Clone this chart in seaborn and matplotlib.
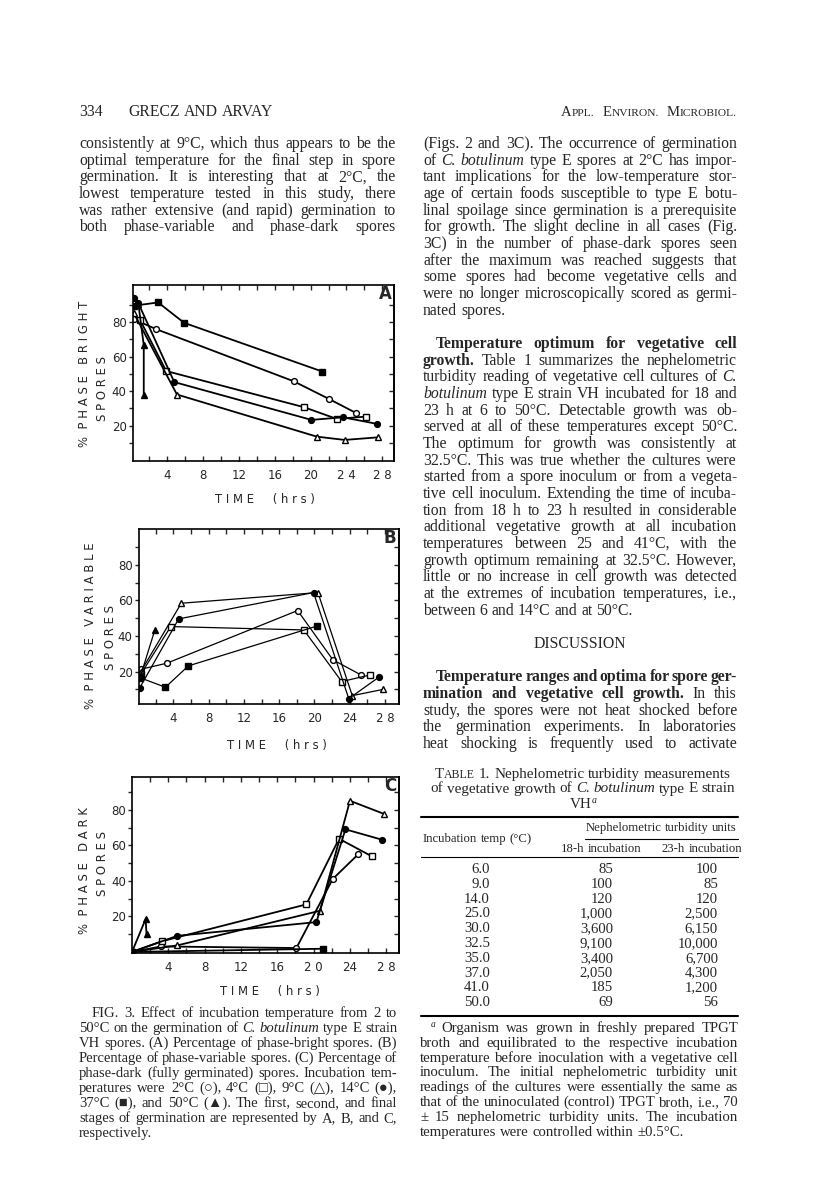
import numpy as np
import pandas as pd
import seaborn as sns
import matplotlib.pyplot as plt
from matplotlib.lines import Line2D

# Page size in pixels (saved at dpi 100)
W, H = 816, 1195
SERIF = ['Liberation Serif', 'DejaVu Sans']
SANS = ['DejaVu Sans']
BODY = 11.3     # body text font size
CAP = 10.5      # caption font size
FOOT = 10.6     # footnote font size
TK = 8.5        # tick label size

# ==============================================================================
# Fig. 3 values: (time in hrs, % spores)
TEMPS = ['2°C', '4°C', '9°C', '14°C', '37°C', '50°C']

# (A) phase-bright spores
A_2C = [(0.3, 81.5), (2.8, 75.8), (18.1, 45.7), (22.1, 35.3), (25.1, 27.2)]
A_4C = [(1.0, 81.0), (3.9, 51.6), (19.3, 30.6), (22.9, 23.9), (26.2, 25.2)]
A_9C = [(0.3, 85.0), (5.1, 38.0), (20.7, 13.6), (23.8, 11.7), (27.5, 13.2)]
A_14C = [(0.3, 93.7), (0.8, 90.8), (4.8, 45.2), (20.1, 23.3), (23.6, 24.8), (27.4, 21.0)]
A_37C = [(0.3, 89.4), (3.0, 91.3), (5.9, 79.5), (21.3, 51.3)]
A_50C = [(0.8, 90.5), (1.4, 66.5), (1.4, 38.0)]

# (B) phase-variable spores
B_2C = [(0.3, 21.3), (3.25, 24.7), (18.1, 54.3), (22.1, 26.6), (25.3, 18.1)]
B_4C = [(0.3, 18.5), (3.7, 45.3), (18.8, 43.4), (23.1, 14.4), (26.3, 18.1)]
B_9C = [(0.3, 20.0), (4.9, 58.4), (20.4, 64.4), (24.3, 6.5), (27.8, 10.0)]
B_14C = [(0.2, 11.0), (4.6, 49.6), (19.9, 64.4), (23.9, 4.8), (27.3, 16.8)]
B_37C = [(0.2, 16.6), (3.1, 11.2), (5.7, 23.2), (20.3, 45.6)]
B_50C = [(0.3, 18.0), (1.9, 43.4)]

# (C) phase-dark spores
C_2C = [(0.0, 0.0), (3.2, 3.1), (18.1, 2.2), (22.1, 41.1), (24.9, 55.0)]
C_4C = [(0.0, 0.0), (3.35, 6.1), (19.2, 26.8), (22.8, 63.8), (26.4, 53.9)]
C_9C = [(0.0, 0.0), (5.0, 3.7), (20.7, 23.2), (24.0, 85.2), (27.8, 77.7)]
C_14C = [(0.0, 0.0), (5.0, 9.1), (20.3, 16.8), (23.5, 69.1), (27.5, 63.3)]
C_37C = [(0.0, 0.0), (21.0, 1.8)]
C_50C = [(0.0, 0.0), (1.5, 18.5), (1.6, 10.0)]

X_TICKS = [4, 8, 12, 16, 20, 24, 28]
X_MINOR = [2, 6, 10, 14, 18, 22, 26]
X_LABELS_A = ['4', '8', '12', '16', '20', '2 4', '2 8']
X_LABELS_B = ['4', '8', '12', '16', '20', '24', '2 8']
X_LABELS_C = ['4', '8', '12', '16', '2 0', '24', '2 8']
Y_TICKS = [20, 40, 60, 80]
Y_MINOR = [10, 30, 50, 70, 90]
Y_RIGHT = [10, 20, 30, 40, 50, 60, 70, 80, 90]

# Table 1 values
TAB_TEMP = ['6.0', '9.0', '14.0', '25.0', '30.0', '32.5', '35.0', '37.0', '41.0', '50.0']
TAB_18H = ['85', '100', '120', '1,000', '3,600', '9,100', '3,400', '2,050', '185', '69']
TAB_23H = ['100', '85', '120', '2,500', '6,150', '10,000', '6,700', '4,300', '1,200', '56']

MARKERS = {
    '2°C': ('o', 'white'), '4°C': ('s', 'white'), '9°C': ('^', 'white'),
    '14°C': ('o', 'black'), '37°C': ('s', 'black'), '50°C': ('^', 'black'),
}

# ==============================================================================
LEFT_TOP = [
    'consistently at 9°C, which thus appears to be the',
    'optimal temperature for the final step in spore',
    'germination. It is interesting that at 2°C, the',
    'lowest temperature tested in this study, there',
    'was rather extensive (and rapid) germination to',
    'both phase-variable and phase-dark spores',
]

RIGHT = [
    '(Figs. 2 and 3C). The occurrence of germination',
    'of _C. _botulinum type E spores at 2°C has impor-',
    'tant implications for the low-temperature stor-',
    'age of certain foods susceptible to type E botu-',
    'linal spoilage since germination is a prerequisite',
    'for growth. The slight decline in all cases (Fig.',
    '3C) in the number of phase-dark spores seen',
    'after the maximum was reached suggests that',
    'some spores had become vegetative cells and',
    'were no longer microscopically scored as germi-',
    'nated spores.<',
    '',
    '>*Temperature *optimum *for *vegetative *cell',
    '*growth. Table 1 summarizes the nephelometric',
    'turbidity reading of vegetative cell cultures of _C.',
    '_botulinum type E strain VH incubated for 18 and',
    '23 h at 6 to 50°C. Detectable growth was ob-',
    'served at all of these temperatures except 50°C.',
    'The optimum for growth was consistently at',
    '32.5°C. This was true whether the cultures were',
    'started from a spore inoculum or from a vegeta-',
    'tive cell inoculum. Extending the time of incuba-',
    'tion from 18 h to 23 h resulted in considerable',
    'additional vegetative growth at all incubation',
    'temperatures between 25 and 41°C, with the',
    'growth optimum remaining at 32.5°C. However,',
    'little or no increase in cell growth was detected',
    'at the extremes of incubation temperatures, i.e.,',
    'between 6 and 14°C and at 50°C.<',
    '',
    '=DISCUSSION',
    '',
    '>*Temperature *ranges *and *optima *for *spore *ger-',
    '*mination *and *vegetative *cell *growth. In this',
    'study, the spores were not heat shocked before',
    'the germination experiments. In laboratories',
    'heat shocking is frequently used to activate',
]

CAPTION = [
    '>FIG. 3. Effect of incubation temperature from 2 to',
    '50°C on the germination of _C. _botulinum type E strain',
    'VH spores. (A) Percentage of phase-bright spores. (B)',
    'Percentage of phase-variable spores. (C) Percentage of',
    'phase-dark (fully germinated) spores. Incubation tem-',
    'peratures were 2°C (○), 4°C (□), 9°C (△), 14°C (●),',
    '37°C (■), and 50°C (▲). The first, second, and final',
    'stages of germination are represented by A, B, and C,',
    'respectively.<',
]

FOOTNOTE = [
    '>^a Organism was grown in freshly prepared TPGT',
    'broth and equilibrated to the respective incubation',
    'temperature before inoculation with a vegetative cell',
    'inoculum. The initial nephelometric turbidity unit',
    'readings of the cultures were essentially the same as',
    'that of the uninoculated (control) TPGT broth, i.e., 70',
    '± 15 nephelometric turbidity units. The incubation',
    'temperatures were controlled within ±0.5°C.<',
]

# ==============================================================================
sns.set_style('ticks')
plt.rcParams['font.family'] = SANS

fig = plt.figure(figsize=(W / 100, H / 100), dpi=100)
fig.patch.set_facecolor('white')
renderer = fig.canvas.get_renderer()


def fx(x):
    return x / W


def fy(y):
    return 1 - y / H


def pieces(tok, size):
    """Split a word into (text, size, weight, style, raise) pieces"""
    weight, style = 'normal', 'normal'
    if tok.startswith('*'):
        weight, tok = 'bold', tok[1:]
    elif tok.startswith('_'):
        style, tok = 'italic', tok[1:]
    if tok.startswith('!'):  # small caps
        tok = tok[1:]
        return [(tok[0], size, weight, style, 0), (tok[1:], size * 0.78, weight, style, 0)]
    if '^' in tok:
        base, sup = tok.split('^')
        out = []
        if base:
            out.append((base, size, weight, style, 0))
        out.append((sup, size * 0.65, weight, 'italic', size * 0.35))
        return out
    return [(tok, size, weight, style, 0)]


def line(x0, x1, y, text, size=BODY, justify=True, center=False):
    words = []
    for tok in text.split():
        arts, w = [], 0.0
        for s, fs, wt, st, up in pieces(tok, size):
            t = fig.text(0, fy(y - up * 100 / 72), s, fontsize=fs, family=SERIF,
                         weight=wt, style=st, va='baseline', ha='left')
            arts.append((t, w))
            w += t.get_window_extent(renderer).width
        words.append((arts, w))
    total = sum(w for _, w in words)
    gap = size * 100 / 72 * 0.25
    if justify and len(words) > 1:
        gap = max((x1 - x0 - total) / (len(words) - 1), 1.5)
    x = x0
    if center:
        x = (x0 + x1) / 2 - (total + gap * (len(words) - 1)) / 2
    for arts, w in words:
        for t, off in arts:
            t.set_x(fx(x + off))
        x += w + gap


def column(x0, x1, y0, step, rows, size=BODY, indent=13):
    for i, row in enumerate(rows):
        if not row:
            continue
        left, just, center = x0, True, False
        if row.startswith('>'):
            row, left = row[1:], x0 + indent
        if row.startswith('='):
            row, just, center = row[1:], False, True
        if row.endswith('<'):
            row, just = row[:-1], False
        line(left, x1, y0 + i * step, row, size, just, center)


def hrule(x0, x1, y, lw):
    fig.add_artist(Line2D([fx(x0), fx(x1)], [fy(y), fy(y)], color='black', lw=lw))


# ==============================================================================
ylab_text = {
    'A': '%  P H A S E   B R I G H T',
    'B': '%  P H A S E   V A R I A B L E',
    'C': '%  P H A S E   D A R K',
}


def draw_panel(box, series, xlim, ylim, xlabels, letter, ylab, lw):
    left, top, right, bottom = box
    ax = fig.add_axes([fx(left), fy(bottom), (right - left) / W, (bottom - top) / H])
    for temp, pts in zip(TEMPS, series):
        df = pd.DataFrame(pts, columns=['time', 'pct'])
        mk, fc = MARKERS[temp]
        sns.lineplot(data=df, x='time', y='pct', ax=ax, sort=False, estimator=None,
                     color='black', lw=lw, marker=mk, markersize=4.6 if mk == '^' else 4.2,
                     markerfacecolor=fc, markeredgecolor='black', markeredgewidth=1.0)
    ax.set_xlim(*xlim)
    ax.set_ylim(*ylim)
    ax.set_xlabel('')
    ax.set_ylabel('')
    ax.set_xticks(X_TICKS, xlabels)
    ax.set_xticks(X_MINOR, minor=True)
    ax.set_yticks(Y_TICKS)
    ax.set_yticks(Y_MINOR, minor=True)
    ax.tick_params(axis='x', which='both', direction='in', top=True, length=3.5,
                   width=1, pad=6, labelsize=TK)
    ax.tick_params(axis='y', which='both', direction='out', length=3,
                   width=1, pad=1.5, labelsize=TK)
    sec = ax.secondary_yaxis('right')
    sec.set_yticks(Y_RIGHT)
    sec.tick_params(axis='y', direction='in', length=3.5, width=1, labelright=False)
    for sp in list(ax.spines.values()) + [sec.spines['right']]:
        sp.set_linewidth(1.2)
        sp.set_color('black')

    # panel letter, axis titles
    fig.text(fx(right - 9), fy(top + 9), letter, fontsize=12, weight='bold',
             ha='center', va='center')
    (lx, ly), (sx, sy), (tx, ty) = ylab
    fig.text(fx(lx), fy(ly), ylab_text[letter], fontsize=8.4, rotation=90,
             ha='center', va='center')
    fig.text(fx(sx), fy(sy), 'S P O R E S', fontsize=8.4, rotation=90,
             ha='center', va='center')
    fig.text(fx(tx), fy(ty), 'T I M E     ( h r s )', fontsize=8.4,
             ha='center', va='center')
    return ax


draw_panel((133, 285, 394, 461), [A_2C, A_4C, A_9C, A_14C, A_37C, A_50C],
           (0.2, 29.3), (-0.5, 101.4), X_LABELS_A, 'A',
           ((85, 374), (102, 388), (265, 499)), 1.3)
draw_panel((139, 529, 399, 704), [B_2C, B_4C, B_9C, B_14C, B_37C, B_50C],
           (0.1, 29.6), (1.8, 100.1), X_LABELS_B, 'B',
           ((90, 626), (110, 637), (277, 746)), 0.9)
draw_panel((132, 777, 399, 953), [C_2C, C_4C, C_9C, C_14C, C_37C, C_50C],
           (0.0, 29.4), (-0.6, 98.6), X_LABELS_C, 'C',
           ((85, 870), (103, 864), (270, 991)), 1.3)

# ==============================================================================
# running head and text columns
line(79, 400, 116.5, '334', justify=False)
line(128, 400, 116.5, 'GRECZ AND ARVAY', justify=False)
line(561, 737, 116.5, '!APPL. !ENVIRON. !MICROBIOL.', size=10.6)

column(79, 396, 148, 16.67, LEFT_TOP)
column(423, 737, 148, 16.67, RIGHT)
column(79, 397, 1017, 15.0, CAPTION, size=CAP)

# Table 1
line(421, 745, 778, '!TABLE 1. Nephelometric turbidity measurements', size=10.9,
     justify=False, center=True)
line(421, 745, 792.5, 'of vegetative growth of _C. _botulinum type E strain', size=10.9,
     justify=False, center=True)
line(421, 745, 808, 'VH^a', size=10.9, justify=False, center=True)
hrule(421, 738, 817, 1.5)
line(585, 738, 831, 'Nephelometric turbidity units', size=9.2, justify=False, center=True)
hrule(585, 738, 838.5, 0.8)
line(423, 600, 842, 'Incubation temp (°C)', size=9.2, justify=False)
line(550, 652, 852, '18-h incubation', size=9.2, justify=False, center=True)
line(666, 738, 852, '23-h incubation', size=9.2, justify=False, center=True)
hrule(421, 738, 856.5, 0.8)
for i, (t, a, b) in enumerate(zip(TAB_TEMP, TAB_18H, TAB_23H)):
    y = 873 + i * 14.8
    fig.text(fx(490), fy(y), t, fontsize=10.6, family=SERIF, ha='right', va='baseline')
    fig.text(fx(613), fy(y), a, fontsize=10.6, family=SERIF, ha='right', va='baseline')
    fig.text(fx(718), fy(y), b, fontsize=10.6, family=SERIF, ha='right', va='baseline')
hrule(421, 738, 1016, 1.5)
column(420, 738, 1032, 14.8, FOOTNOTE, size=FOOT, indent=11)

fig.savefig('out.png', dpi=100, facecolor='white')
